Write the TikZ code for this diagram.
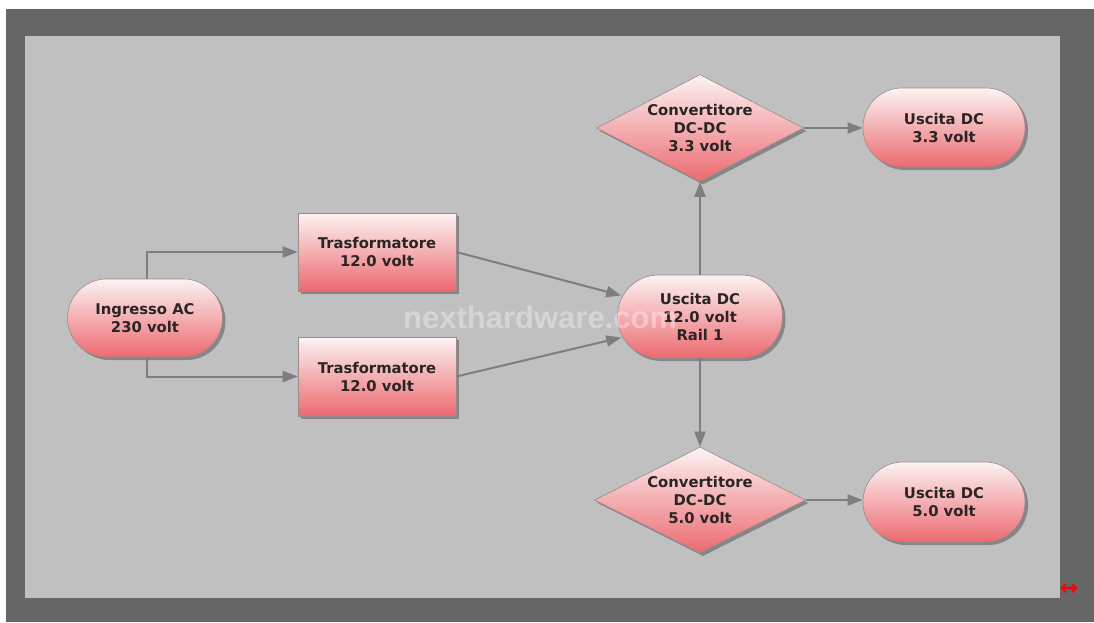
\documentclass[tikz,border=0pt]{standalone}
\usepackage{fontspec}
\setmainfont{DejaVu Sans}
\newfontfamily\wmfont{Liberation Sans}
\usetikzlibrary{shapes.geometric,shadows,arrows.meta,calc}
\definecolor{bgdark}{HTML}{666666}
\definecolor{bglight}{HTML}{C0C0C0}
\definecolor{nodetop}{HTML}{FCF3F3}
\definecolor{nodebot}{HTML}{EC6A70}
\definecolor{txtcol}{HTML}{2A2424}
\definecolor{linecol}{HTML}{7E7E7E}
\definecolor{edgecol}{HTML}{9A8A8A}
\tikzset{
  box/.style={rectangle, top color=nodetop, bottom color=nodebot, draw=edgecol,
    line width=0.6pt, inner sep=0pt,
    drop shadow={shadow xshift=3pt, shadow yshift=-3pt, fill=black, opacity=0.3}},
  lbl/.style={font=\bfseries\fontsize{14.8}{18}\selectfont, text=txtcol, align=center},
  dia/.style={box, diamond},
  conn/.style={draw=linecol, line width=2pt, -{Triangle[length=15pt,width=11pt]}},
}
\begin{document}
\begin{tikzpicture}[x=1pt,y=-1pt]
\useasboundingbox (0,0) rectangle (1094,622);
\fill[white] (0,0) rectangle (1094,622);
\fill[bgdark] (6,9) rectangle (1094,622);
\fill[bglight] (25,36) rectangle (1060,598);

% nodes
\node[box, lbl, rounded corners=39pt, minimum width=155pt, minimum height=78pt] (ing) at (145,318) {Ingresso AC\\230 volt};
\node[box, lbl, minimum width=158pt, minimum height=78pt] (t1) at (377,252) {Trasformatore\\12.0 volt};
\node[box, lbl, minimum width=158pt, minimum height=79pt] (t2) at (377,376.5) {Trasformatore\\12.0 volt};
\node[box, lbl, rounded corners=41pt, minimum width=165pt, minimum height=83pt] (u12) at (700,316.5) {Uscita DC\\12.0 volt\\Rail 1};
\node[dia, minimum width=207pt, minimum height=107pt] (d1) at (700,128) {};
\node[lbl] (d1t) at (d1.center) {Convertitore\\DC-DC\\3.3 volt};
\node[dia, minimum width=211pt, minimum height=106pt] (d2) at (700,500) {};
\node[lbl] (d2t) at (d2.center) {Convertitore\\DC-DC\\5.0 volt};
\node[box, lbl, rounded corners=39pt, minimum width=162pt, minimum height=79pt] (p33) at (944,127.5) {Uscita DC\\3.3 volt};
\node[box, lbl, rounded corners=40pt, minimum width=162pt, minimum height=80pt] (p50) at (944,502) {Uscita DC\\5.0 volt};

% connectors
\draw[conn] ([xshift=2pt]ing.north) |- (t1.west);
\draw[conn] ([xshift=2pt]ing.south) |- (t2.west);
\coordinate (u12a) at ($(u12.west)+(4,-21)$);
\coordinate (u12b) at ($(u12.west)+(4,21)$);
\draw[conn] (t1.east) -- (u12a);
\draw[conn] (t2.east) -- (u12b);
\draw[conn] (u12.north) -- (d1.south);
\draw[conn] (u12.south) -- (d2.north);
\draw[conn] (d1.east) -- (d1.east -| p33.west);
\draw[conn] (d2.east) -- (d2.east -| p50.west);

% watermark
\node[font=\wmfont\bfseries\fontsize{31}{31}\selectfont, text=white, opacity=0.35, anchor=base west, inner sep=0pt] (wm) at (403,328) {nexthardware.com};

% corner icon
\node[text=red, font=\bfseries\fontsize{22}{22}\selectfont, inner sep=0pt] (corner) at (1069,590) {↔};
\end{tikzpicture}
\end{document}
